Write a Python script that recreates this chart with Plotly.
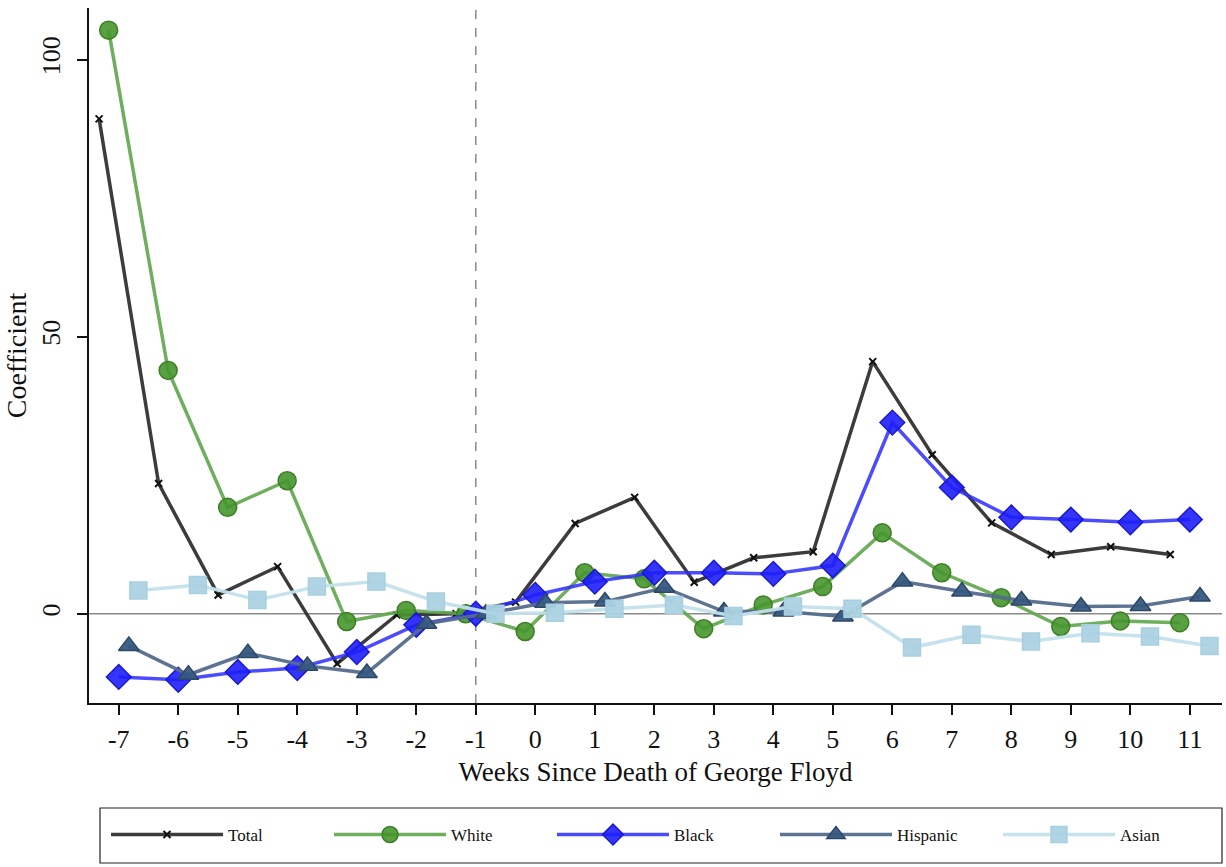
import plotly.graph_objects as go

weeks = [-7, -6, -5, -4, -3, -2, -1, 0, 1, 2, 3, 4, 5, 6, 7, 8, 9, 10, 11]

total = [89.3, 23.5, 3.4, 8.5, -9.0, -0.2, 0.0, 2.1, 16.3, 21.0, 5.7, 10.1, 11.2, 45.5, 28.7, 16.4, 10.7, 12.1, 10.7]
white = [105.3, 43.9, 19.2, 24.0, -1.4, 0.6, 0.0, -3.2, 7.4, 6.3, -2.7, 1.6, 4.9, 14.6, 7.4, 2.9, -2.3, -1.3, -1.6]
black = [-11.4, -11.9, -10.5, -9.8, -6.9, -2.0, 0.0, 3.4, 5.8, 7.4, 7.4, 7.2, 8.7, 34.5, 22.8, 17.4, 17.0, 16.5, 17.0]
hispanic = [-5.8, -11.0, -7.1, -9.4, -10.7, -1.8, 0.0, 2.0, 2.2, 4.7, 0.4, 0.4, -0.5, 5.8, 4.0, 2.4, 1.3, 1.4, 3.1]
asian = [4.2, 5.2, 2.5, 4.9, 5.8, 2.2, 0.0, 0.2, 0.9, 1.6, -0.4, 1.3, 0.9, -6.1, -3.8, -5.0, -3.5, -4.1, -5.8]

series_names = ["Total", "White", "Black", "Hispanic", "Asian"]
x_tick_labels = [str(w) for w in weeks]
y_ticks = [0, 50, 100]

FONT = "Liberation Serif"

styles = {
    "Total": dict(offset=-0.33, line="rgba(50,50,50,0.95)", fill="#111111", edge="#111111",
                  symbol="x-thin", size=7, lw=3.5),
    "White": dict(offset=-0.17, line="rgba(95,165,75,0.9)", fill="rgba(70,150,45,0.9)", edge="#3d7f25",
                  symbol="circle", size=18, lw=3.5),
    "Black": dict(offset=0.0, line="rgba(45,45,255,0.85)", fill="rgba(30,30,250,0.9)", edge="#1a1ad0",
                  symbol="diamond", size=19, lw=3.5),
    "Hispanic": dict(offset=0.17, line="rgba(85,108,140,0.95)", fill="rgba(55,88,128,0.95)", edge="#2c4868",
                     symbol="triangle-up", size=18, lw=3.5),
    "Asian": dict(offset=0.33, line="rgba(195,224,235,0.95)", fill="rgba(172,210,225,0.95)", edge="#a8cfe0",
                  symbol="square", size=17, lw=3.5),
}

data = {"Total": total, "White": white, "Black": black, "Hispanic": hispanic, "Asian": asian}

fig = go.Figure()
for name in series_names:
    s = styles[name]
    mk = dict(symbol=s["symbol"], size=s["size"], color=s["fill"],
              line=dict(color=s["edge"], width=1.5 if name != "Total" else 2))
    fig.add_trace(go.Scatter(
        x=[w + s["offset"] for w in weeks], y=data[name], name=name,
        mode="lines+markers", line=dict(color=s["line"], width=s["lw"]), marker=mk,
    ))

fig.add_hline(y=0, line=dict(color="#8a8a8a", width=1.5), layer="below")
fig.add_vline(x=-1, line=dict(color="#8a8a8a", width=1.5, dash="dash"), layer="below")

# legend frame
fig.add_shape(type="rect", xref="paper", yref="paper",
              x0=(100 - 89) / (1222 - 89), x1=1.0,
              y0=(703 - 863) / (703 - 8), y1=(703 - 808) / (703 - 8),
              line=dict(color="#222222", width=1.2), fillcolor="white", layer="below")

fig.update_layout(
    width=1226, height=867,
    margin=dict(l=89, r=4, t=8, b=164),
    plot_bgcolor="white", paper_bgcolor="white",
    font=dict(family=FONT, color="#111111"),
    showlegend=True,
    legend=dict(orientation="h", xref="container", yref="container", x=106 / 1226, xanchor="left",
                y=1 - 835 / 867, yanchor="middle",
                bgcolor="rgba(0,0,0,0)", font=dict(family=FONT, size=17),
                entrywidth=96, entrywidthmode="pixels", itemwidth=112, itemsizing="trace"),
    xaxis=dict(range=[-7.5, 11.54], tickmode="array", tickvals=weeks, ticktext=x_tick_labels,
               ticks="outside", ticklen=10, tickwidth=1.5, tickcolor="#111111",
               showline=True, linecolor="#111111", linewidth=1.5, showgrid=False, zeroline=False,
               tickfont=dict(family=FONT, size=26), ticklabelstandoff=2,
               title=dict(text="Weeks Since Death of George Floyd", font=dict(family=FONT, size=27), standoff=9)),
    yaxis=dict(range=[-16.1, 109.3], tickmode="array", tickvals=y_ticks, ticktext=[str(v) for v in y_ticks],
               ticks="outside", ticklen=10, tickwidth=1.5, tickcolor="#111111", tickangle=-90,
               showline=True, linecolor="#111111", linewidth=1.5, showgrid=False, zeroline=False,
               tickfont=dict(family=FONT, size=26), ticklabelstandoff=7,
               title=dict(text="Coefficient", font=dict(family=FONT, size=28), standoff=2)),
)

fig.write_html("out.html")
